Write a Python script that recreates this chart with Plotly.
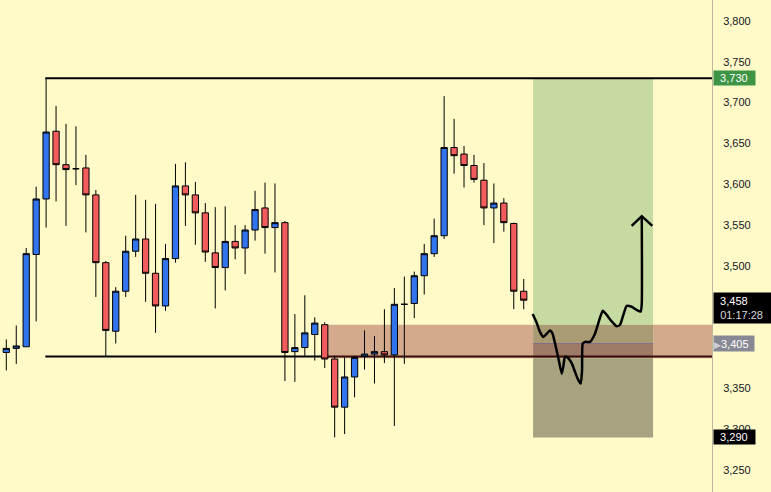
import plotly.graph_objects as go

# ---- candle data ----
opens  = [3394, 3399, 3401, 3514, 3582, 3665, 3624, 3619, 3620, 3587,
          3504, 3420, 3469, 3518, 3533, 3491, 3451, 3509, 3598, 3587,
          3565, 3516, 3498, 3530, 3522, 3544, 3571, 3547, 3553, 3395,
          3400, 3416, 3428, 3386, 3327, 3364, 3389, 3392, 3395, 3391,
          3453, 3454, 3488, 3515, 3537, 3645, 3637, 3623, 3605, 3571,
          3577, 3552, 3469]
highs  = [3410, 3427, 3522, 3597, 3730, 3696, 3674, 3671, 3636, 3593,
          3506, 3474, 3537, 3587, 3581, 3576, 3527, 3625, 3627, 3603,
          3577, 3572, 3573, 3550, 3550, 3592, 3602, 3601, 3555, 3441,
          3464, 3437, 3431, 3390, 3388, 3390, 3421, 3414, 3447, 3473,
          3487, 3493, 3527, 3558, 3708, 3680, 3647, 3636, 3626, 3601,
          3583, 3553, 3484]
lows   = [3372, 3380, 3401, 3432, 3547, 3579, 3549, 3599, 3541, 3462,
          3389, 3405, 3462, 3511, 3456, 3418, 3445, 3504, 3549, 3526,
          3505, 3448, 3470, 3508, 3490, 3531, 3515, 3492, 3359, 3358,
          3389, 3384, 3375, 3290, 3294, 3339, 3373, 3356, 3381, 3304,
          3380, 3436, 3465, 3511, 3533, 3613, 3596, 3602, 3550, 3528,
          3542, 3447, 3447]
closes = [3399, 3402, 3515, 3582, 3664, 3624, 3618, 3619, 3587, 3504,
          3421, 3469, 3518, 3533, 3491, 3451, 3509, 3598, 3587, 3565,
          3517, 3498, 3530, 3522, 3544, 3569, 3547, 3553, 3394, 3400,
          3418, 3430, 3386, 3327, 3364, 3388, 3392, 3395, 3391, 3453,
          3453, 3488, 3515, 3537, 3645, 3635, 3623, 3606, 3571, 3577,
          3553, 3469, 3458]
bars = list(range(len(opens)))

# ---- levels ----
resistance = 3730
support = 3389
zone_low, zone_high = 3387, 3428
target_price, entry_price, stop_price = 3730, 3405, 3290
last_price = 3458
countdown = "01:17:28"
level_start = 3.92
zone_start = 32.03
pos_x0, pos_x1 = 52.94, 65.0

# ---- hand-drawn projection path (bar index, price) ----
path_x = [52.90, 53.31, 53.64, 53.97, 54.24, 54.64, 54.87, 55.15, 55.48, 55.82,
          55.98, 56.15, 56.48, 56.82, 57.16, 57.49, 57.73, 57.86, 57.93, 58.16,
          58.66, 59.16, 59.50, 59.94, 60.34, 60.84, 61.35, 61.68, 62.01, 62.35,
          62.85, 63.36, 63.76, 63.86, 63.86]
path_y = [3441, 3430, 3419, 3413, 3416, 3421, 3418, 3405, 3387, 3368,
          3377, 3389, 3387, 3381, 3370, 3360, 3356, 3372, 3405, 3407,
          3407, 3417, 3430, 3445, 3440, 3432, 3426, 3428, 3440, 3451,
          3450, 3446, 3444, 3454, 3561]
head_x = [62.85, 63.86, 64.92]
head_y = [3549, 3561, 3549]

# tick labels visible on the price scale (3,450 and 3,400 sit under price labels)
tick_vals = [3250, 3300, 3350, 3500, 3550, 3600, 3650, 3700, 3750, 3800]

BG = "#fffac8"
X_RANGE = [-0.633, 70.92]
Y_RANGE = [3223.1, 3825.7]

fig = go.Figure()

fig.add_trace(go.Candlestick(
    x=bars, open=opens, high=highs, low=lows, close=closes,
    increasing=dict(fillcolor="#3174ee", line=dict(color="#000000", width=1)),
    decreasing=dict(fillcolor="#f25c5c", line=dict(color="#000000", width=1)),
    whiskerwidth=0, showlegend=False, hoverinfo="skip"))

fig.add_trace(go.Scatter(x=path_x, y=path_y, mode="lines",
                         line=dict(color="#000000", width=2.5, shape="spline", smoothing=0.5),
                         showlegend=False, hoverinfo="skip"))
fig.add_trace(go.Scatter(x=head_x, y=head_y, mode="lines",
                         line=dict(color="#000000", width=2.5),
                         showlegend=False, hoverinfo="skip"))

shapes = []
def rect(x0, x1, y0, y1, color, xref="x"):
    shapes.append(dict(type="rect", xref=xref, yref="y", x0=x0, x1=x1, y0=y0, y1=y1,
                       fillcolor=color, line=dict(width=0), layer="below"))

# brown zone (left part, right part)
rect(zone_start, pos_x0, zone_low, zone_high, "#d3aa8b")
rect(pos_x1, X_RANGE[1], zone_low, zone_high, "#d3aa8b")
# position box
rect(pos_x0, pos_x1, zone_high, target_price, "#c6dba2")
rect(pos_x0, pos_x1, entry_price, zone_high, "#a99b74")
rect(pos_x0, pos_x1, zone_low, entry_price, "#9e7b66")
rect(pos_x0, pos_x1, stop_price, zone_low, "#a7a27f")

def hline(x0, x1, y, color, width):
    shapes.append(dict(type="line", xref="x", yref="y", x0=x0, x1=x1, y0=y, y1=y,
                       line=dict(color=color, width=width), layer="below"))

hline(level_start, X_RANGE[1], resistance, "#000000", 2)
hline(level_start, zone_start, support, "#000000", 2)
hline(zone_start, X_RANGE[1], support, "#3a0c0c", 2)
hline(pos_x0, pos_x1, entry_price, "#85708a", 1)

fig.update_layout(shapes=shapes)

annotations = []
def price_label(y, text, bg, fg="#ffffff", w=41, h=14):
    annotations.append(dict(xref="paper", yref="y", x=1.0, y=y, xanchor="left", yanchor="middle",
                            text=text, showarrow=False, bgcolor=bg, width=w, height=h,
                            align="left", borderpad=0, xshift=1,
                            font=dict(family="Liberation Sans, Arial, sans-serif", size=11, color=fg)))

price_label(target_price, "  " + f"{target_price:,}", "#3d9444")
price_label(last_price - 9, "  " + f"{last_price:,}" + "<br>  <span style='color:#d8d8d8'>" + countdown + "</span>",
            "#000000", w=58, h=30)
price_label(entry_price, "<span style='color:#cfd0dc;font-size:9px'>▶</span>" + f"{entry_price:,}", "#868993", w=40, h=15)
price_label(stop_price, "  " + f"{stop_price:,}", "#000000")

fig.update_layout(
    annotations=annotations,
    width=771, height=492,
    margin=dict(l=0, r=59, t=0, b=0),
    paper_bgcolor=BG, plot_bgcolor=BG,
    boxgap=0.37, boxgroupgap=0,
    xaxis=dict(range=X_RANGE, showgrid=False, zeroline=False, showticklabels=False,
               rangeslider=dict(visible=False), fixedrange=True),
    yaxis=dict(range=Y_RANGE, side="right", showgrid=False, zeroline=False,
               tickvals=tick_vals, ticktext=[f"{v:,}" for v in tick_vals],
               ticks="", ticklabelstandoff=8, fixedrange=True,
               showline=True, linecolor="#bdb7a0", linewidth=1,
               tickfont=dict(family="Liberation Sans, Arial, sans-serif", size=11, color="#131722")),
)

fig.write_html("out.html",
               config={"displayModeBar": False, "staticPlot": True},
               post_script="document.body.style.margin='0';document.body.style.background='" + BG + "';")
